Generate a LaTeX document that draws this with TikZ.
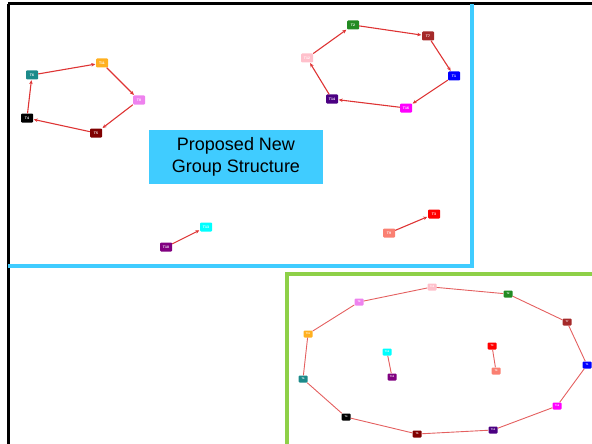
\documentclass[tikz,border=0pt]{standalone}
\usepackage{fontspec}
\setmainfont{Liberation Sans}
\usetikzlibrary{arrows.meta}

\definecolor{edgered}{RGB}{222,52,52}
\definecolor{ringred}{RGB}{228,96,96}
\definecolor{frameblue}{RGB}{64,204,255}
\definecolor{framegreen}{RGB}{142,208,72}
\definecolor{tteal}{RGB}{28,138,138}
\definecolor{torange}{RGB}{255,176,32}
\definecolor{tviolet}{RGB}{238,130,238}
\definecolor{tmaroon}{RGB}{128,0,0}
\definecolor{tgreen}{RGB}{34,139,34}
\definecolor{tbrown}{RGB}{165,42,42}
\definecolor{tblue}{RGB}{0,0,255}
\definecolor{tmagenta}{RGB}{255,0,255}
\definecolor{tindigo}{RGB}{75,0,130}
\definecolor{tpink}{RGB}{255,192,203}
\definecolor{tcyan}{RGB}{0,255,255}
\definecolor{tpurple}{RGB}{128,0,128}
\definecolor{tred}{RGB}{255,0,0}
\definecolor{tsalmon}{RGB}{250,128,114}

\tikzset{
  task/.style={rectangle, rounded corners=1pt, minimum width=12pt, minimum height=9pt,
    inner sep=0.5pt, text=white, font=\fontsize{3.5}{3.5}\selectfont\bfseries},
  smalltask/.style={task, minimum width=9pt, minimum height=7pt, font=\fontsize{2.5}{2.5}\selectfont\bfseries},
  link/.style={edgered, line width=1.1pt, -{Stealth[length=4pt,width=3.5pt]}, shorten >=0.5pt},
  ring/.style={ringred, line width=0.9pt}
}

\begin{document}
\begin{tikzpicture}[x=1pt, y=-1pt]
  \useasboundingbox (0,0) rectangle (592,444);

  % frames
  \draw[line width=3pt] (8,4) -- (592,4);
  \draw[line width=3pt] (8,4) -- (8,444);
  \draw[frameblue, line width=4pt] (8,266) -- (472,266) -- (472,4);
  \draw[framegreen, line width=4pt] (287,444) -- (287,274) -- (592,274);

  % title box
  \node[fill=frameblue, minimum width=174pt, minimum height=54pt, align=center,
    font=\fontsize{18}{22}\selectfont] (title) at (236,157) {Proposed New\\Group Structure};

  % first group (top left)
  \node[task, fill=tteal]   (a6)  at (32,75)   {T6};
  \node[task, fill=torange] (a11) at (102,63)  {T11};
  \node[task, fill=tviolet] (a8)  at (139,100) {T8};
  \node[task, fill=tmaroon] (a5)  at (96,133)  {T5};
  \node[task, fill=black]   (a4)  at (27,118)  {T4};

  % second group (top right)
  \node[task, fill=tgreen]   (a2)  at (353,25)  {T2};
  \node[task, fill=tbrown]   (a7)  at (428,36)  {T7};
  \node[task, fill=tblue]    (a1)  at (454,76)  {T1};
  \node[task, fill=tmagenta] (a16) at (406,108) {T16};
  \node[task, fill=tindigo]  (a14) at (332,99)  {T14};
  \node[task, fill=tpink]    (a12) at (307,58)  {T12};

  % pairs
  \node[task, fill=tcyan]   (a13) at (206,227) {T13};
  \node[task, fill=tpurple] (a10) at (166,247) {T10};
  \node[task, fill=tred]    (a3)  at (434,214) {T3};
  \node[task, fill=tsalmon] (a9)  at (389,233) {T9};

  \draw[link] (a6) -- (a11);
  \draw[link] (a11) -- (a8);
  \draw[link] (a8) -- (a5);
  \draw[link] (a5) -- (a4);
  \draw[link] (a4) -- (a6);

  \draw[link] (a12) -- (a2);
  \draw[link] (a2) -- (a7);
  \draw[link] (a7) -- (a1);
  \draw[link] (a1) -- (a16);
  \draw[link] (a16) -- (a14);
  \draw[link] (a14) -- (a12);

  \draw[link] (a10) -- (a13);
  \draw[link] (a9) -- (a3);

  % old structure (bottom right)
  \node[smalltask, fill=tpink]    (b12) at (432,287) {T12};
  \node[smalltask, fill=tgreen]   (b2)  at (508,294) {T2};
  \node[smalltask, fill=tbrown]   (b7)  at (567,322) {T7};
  \node[smalltask, fill=tblue]    (b1)  at (587,365) {T1};
  \node[smalltask, fill=tmagenta] (b16) at (557,406) {T16};
  \node[smalltask, fill=tindigo]  (b14) at (493,430) {T14};
  \node[smalltask, fill=tmaroon]  (b5)  at (417,434) {T5};
  \node[smalltask, fill=black]    (b4)  at (346,417) {T4};
  \node[smalltask, fill=tteal]    (b6)  at (303,379) {T6};
  \node[smalltask, fill=torange]  (b11) at (308,334) {T11};
  \node[smalltask, fill=tviolet]  (b8)  at (359,302) {T8};

  \node[smalltask, fill=tcyan]   (b13) at (387,352) {T13};
  \node[smalltask, fill=tpurple] (b10) at (392,377) {T10};
  \node[smalltask, fill=tred]    (b3)  at (492,346) {T3};
  \node[smalltask, fill=tsalmon] (b9)  at (496,371) {T9};

  \draw[ring] (b12) -- (b2) -- (b7) -- (b1) -- (b16) -- (b14) -- (b5)
    -- (b4) -- (b6) -- (b11) -- (b8) -- (b12);
  \draw[ring] (b13) -- (b10);
  \draw[ring] (b3) -- (b9);

\end{tikzpicture}
\end{document}
